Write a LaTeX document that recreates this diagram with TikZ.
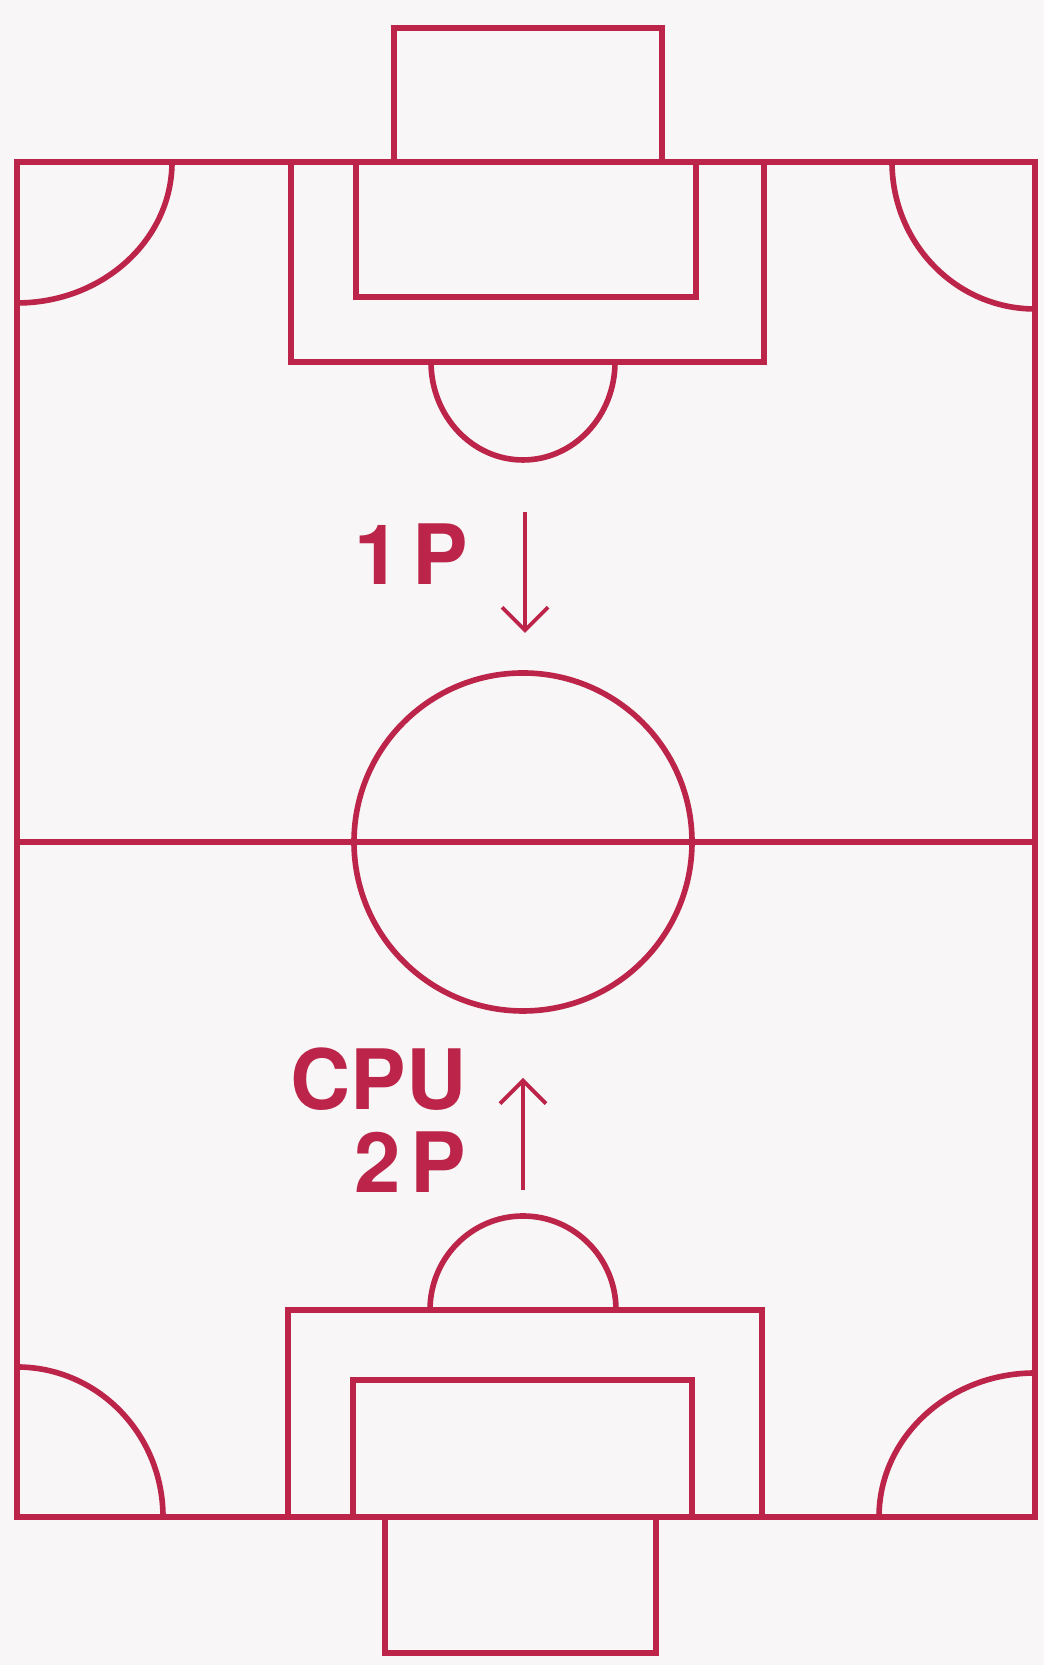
\documentclass[tikz,border=0pt]{standalone}
\usepackage{fontspec}
\newfontfamily\heros{TeX Gyre Heros}
\usepackage{xcolor}
\usepackage{tikz}
\usetikzlibrary{arrows.meta}

\definecolor{pitchred}{RGB}{188,36,74}
\definecolor{paper}{RGB}{248,246,246}

\begin{document}
\begin{tikzpicture}[x=0.1mm, y=0.1mm,
    line/.style={draw=pitchred, line width=1.6pt, line join=miter},
    dirarrow/.style={draw=pitchred, line width=1.1pt, -{Straight Barb[length=2.3mm, width=4.6mm, line width=1.1pt]}},
    lbl/.style={text=pitchred, inner sep=0pt, font=\heros\bfseries\fontsize{23.7}{23.6}\selectfont}]

    \fill [paper] (0,0) rectangle (1044,1665);
    \useasboundingbox (0,0) rectangle (1044,1665);

    % field and halfway line
    \draw [line] (17,148) rectangle (1035,1503);
    \draw [line] (17,823) -- (1035,823);
    \draw [line] (523,823) circle [radius=16.9mm];

    % top end
    \draw [line] (394,1503) rectangle (662,1637);
    \draw [line] (291,1503) rectangle (764,1303);
    \draw [line] (356,1503) rectangle (696,1368);
    \draw [line] (615,1303) arc [start angle=0, end angle=-180, x radius=9.2mm, y radius=9.8mm];

    % bottom end
    \draw [line] (385,148) rectangle (656,12);
    \draw [line] (288,148) rectangle (762,355);
    \draw [line] (353,148) rectangle (692,285);
    \draw [line] (616,355) arc [start angle=0, end angle=180, x radius=9.3mm, y radius=9.4mm];

    % corners
    \draw [line] (172,1503) arc [start angle=0, end angle=-90, x radius=15.5mm, y radius=14.1mm];
    \draw [line] (892,1503) arc [start angle=180, end angle=270, x radius=14.3mm, y radius=14.7mm];
    \draw [line] (17,298) arc [start angle=90, end angle=0, x radius=14.6mm, y radius=15mm];
    \draw [line] (1035,292) arc [start angle=90, end angle=180, x radius=15.6mm, y radius=14.4mm];

    % kick-off directions
    \node [lbl, anchor=base east] (p1) at (469,1080) {1\hspace{0.14em}P};
    \node [lbl, anchor=base east] (cpu) at (467,555) {CPU};
    \node [lbl, anchor=base east] (p2) at (467,472) {2\hspace{0.12em}P};

    \coordinate (p1from) at (525,1153);
    \coordinate (p1to) at (525,1032);
    \coordinate (p2from) at (523,475);
    \coordinate (p2to) at (523,587);

    \draw [dirarrow] (p1from) -- (p1to);
    \draw [dirarrow] (p2from) -- (p2to);
\end{tikzpicture}
\end{document}
